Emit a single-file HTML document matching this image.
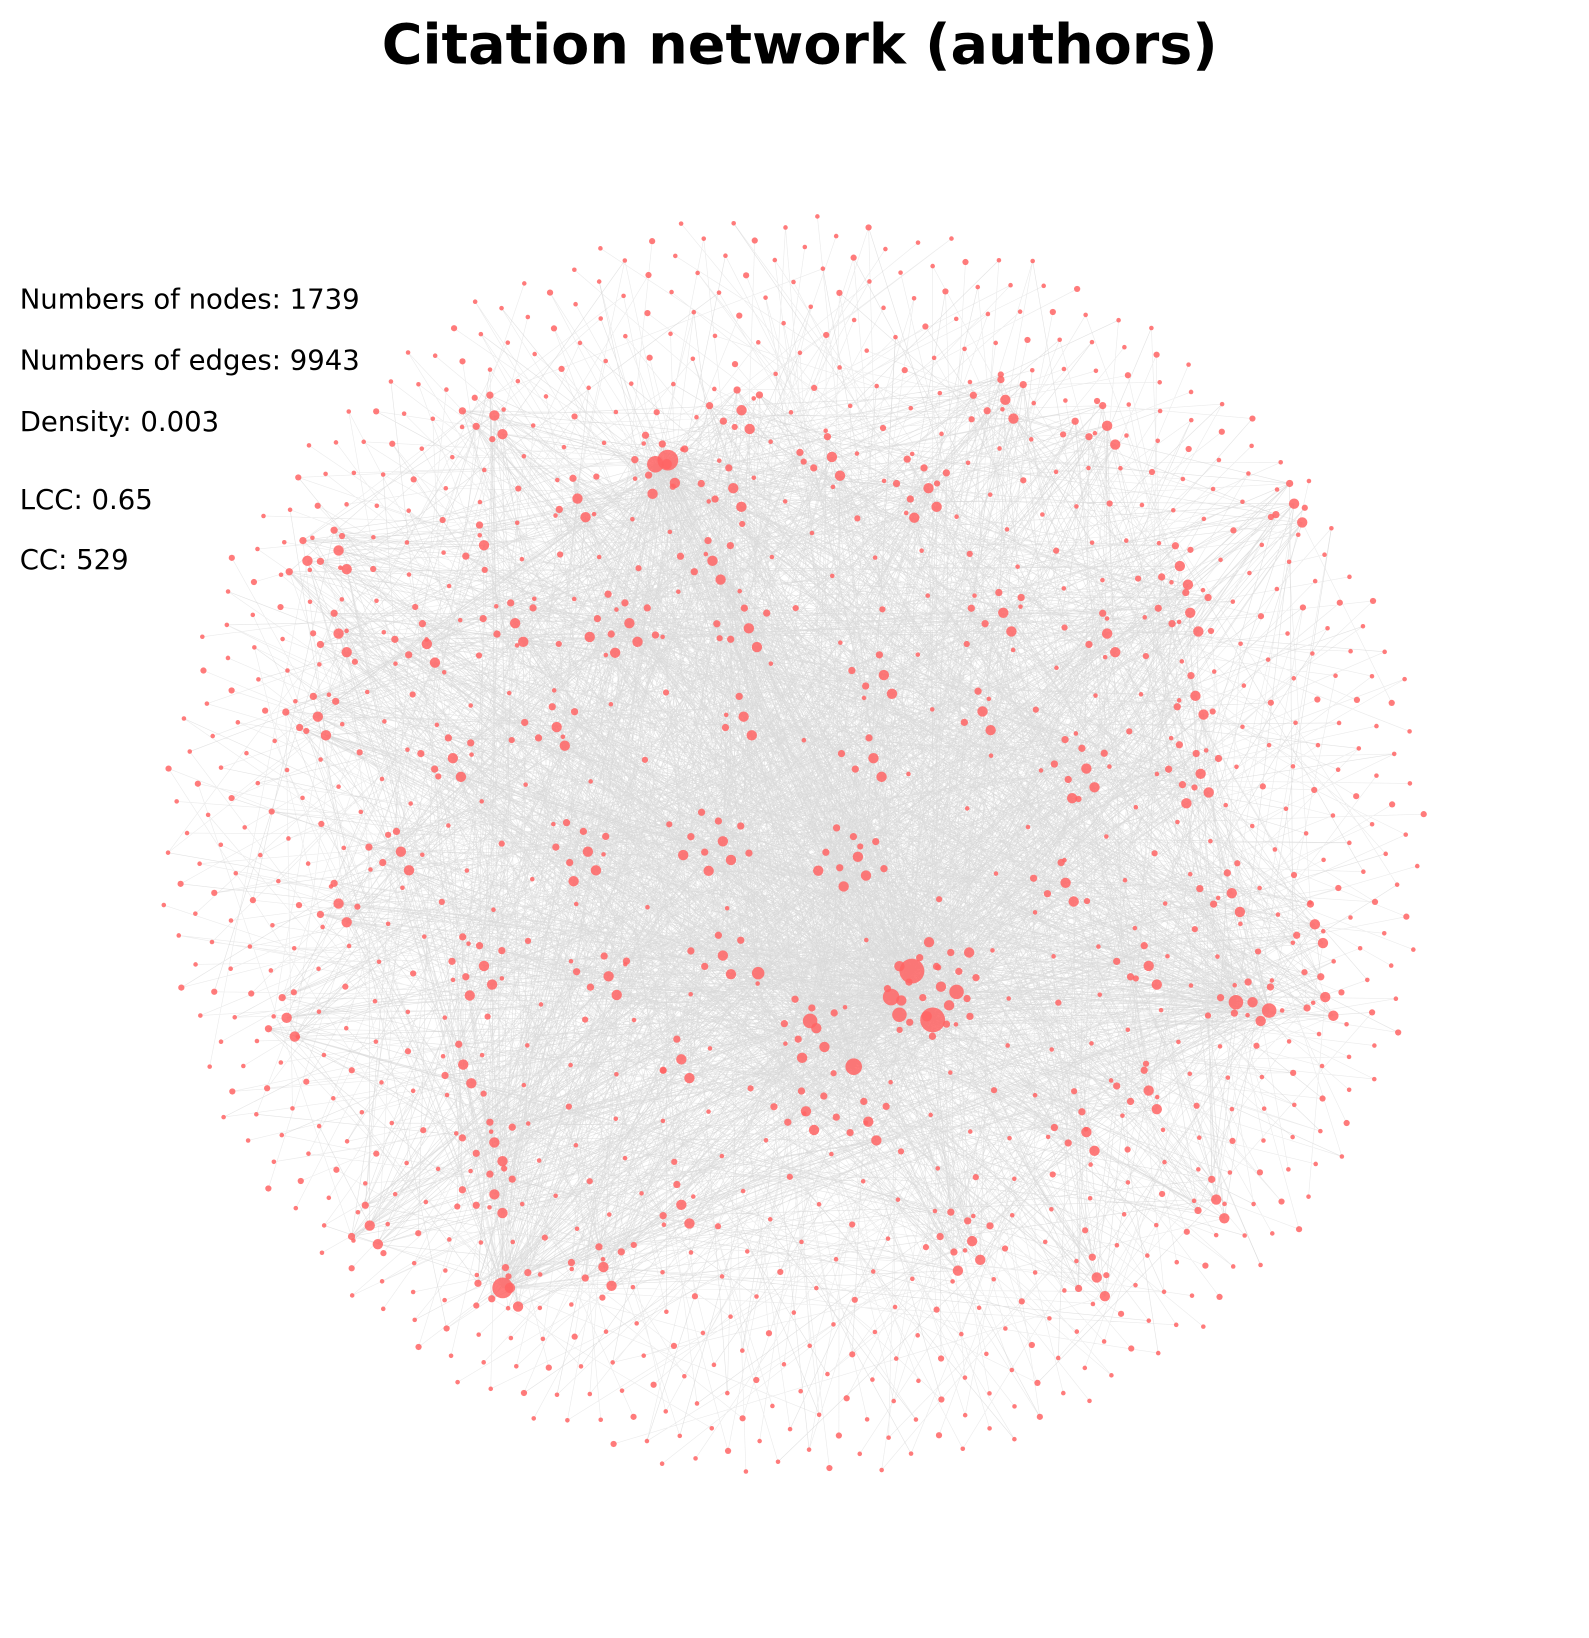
<!DOCTYPE html>
<html><head><meta charset="utf-8"><style>
body{margin:0;background:#fff;}
svg{display:block;font-family:"DejaVu Sans","Liberation Sans",sans-serif;}
</style></head><body>
<svg id="chart" width="1589" height="1638" viewBox="0 0 1589 1638">
<g transform="scale(1.0386)">
<text x="770" y="61" text-anchor="middle" font-size="53.5" font-weight="bold">Citation network (authors)</text>
<g id="edges"></g>
<g id="nodes"></g>
<g font-size="26.5" fill="#000">
<text x="19" y="297">Numbers of nodes: 1739</text>
<text x="19" y="356">Numbers of edges: 9943</text>
<text x="19" y="415">Density: 0.003</text>
<text x="19" y="490">LCC: 0.65</text>
<text x="19" y="548">CC: 529</text>
</g>
</g>
</svg>
<script>
// cluster centers (x,y in layout px) and node counts
const clusterX=[636,708,795,888,962,470,1060,715,600,490,405,300,430,530,680,845,960,1060,1140,1145,1040,1150,940,835,710,690,820,560,380,1020,1180,1260,1200,900,780,690,460,580,1100,1270,1100,1040,830,770,650,470,470,350,485,575,650,930,1165,1050,320,270,440,320,320,290,700,550,460,1240,1130];
const clusterY=[447,395,440,470,385,400,410,605,600,600,620,690,730,700,540,650,590,610,590,670,740,745,685,730,690,810,825,820,820,850,860,890,965,950,990,920,930,940,930,960,1050,1090,1080,1070,1020,1100,1150,1180,1240,1220,1160,1195,1155,1230,870,980,1025,530,610,540,470,480,525,485,545];
const clusterN=[8,6,5,8,6,5,5,6,10,6,5,6,6,6,6,5,6,4,6,4,8,8,4,5,4,10,10,8,5,5,5,4,6,20,8,6,8,6,5,4,5,5,6,6,4,6,6,4,6,6,4,8,4,4,4,4,4,4,4,3,5,4,3,4,4];
// hub nodes (largest degree)
const hubX=[878,898,643,484,822,858,631,866,921,780,730,1190,1222];
const hubY=[935,982,443,1240,1027,960,447,977,955,983,937,965,973];
const hubR=[12,12,10,10,8,8,8,7,7,7,6,7,7];
const peripheralN=950;
const CX=765,CY=815,RAD=610;
const ns="http://www.w3.org/2000/svg";
const nodes=[];
clusterX.forEach((x,i)=>{const n=clusterN[i];for(let k=0;k<n;k++){const a=k*2.4,rr=6+9.6*Math.sqrt(k);nodes.push([x+rr*Math.cos(a),clusterY[i]+rr*Math.sin(a),k%3==0?5:3.5]);}});
const NC=nodes.length;
for(let k=0;k<peripheralN;k++){const f=Math.pow((k+0.5)/peripheralN,0.3);const a=k*2.39996;nodes.push([CX+RAD*f*Math.cos(a),CY+RAD*f*Math.sin(a),k%4==0?3.0:2.2]);}
const NP=nodes.length;
hubX.forEach((x,i)=>nodes.push([x,hubY[i],hubR[i]]));
const N=nodes.length;
const eg=document.getElementById('edges');
let d1="",d2="";
function seg(a,b){return `M${a[0].toFixed(1)} ${a[1].toFixed(1)}L${b[0].toFixed(1)} ${b[1].toFixed(1)}`;}
for(let i=0;i<N;i++){
 const a=nodes[i];
 if(i<NC||i>=NP){
  [(i*37+11)%NC,(i*101+7)%NC,(i*13+5)%NC,N-1-(i%hubX.length),(i*53+3)%N].forEach(t=>{d1+=seg(a,nodes[t]);});
 } else {
  d2+=seg(a,nodes[(i*7+3)%NC]);
  if(i%3==0)d2+=seg(a,nodes[NP+((i*5)%hubX.length)]);
 }
}
[[d1,'0.55'],[d2,'0.4']].forEach(([dd,op],j)=>{
const p=document.createElementNS(ns,'path');
p.setAttribute('d',dd);p.setAttribute('stroke','#cccccc');p.setAttribute('stroke-width','0.6');p.setAttribute('stroke-opacity',op);p.setAttribute('fill','none');


eg.appendChild(p);
});
const ng=document.getElementById('nodes');
nodes.forEach(n=>{
 const c=document.createElementNS(ns,'circle');
 c.setAttribute('cx',n[0].toFixed(1));c.setAttribute('cy',n[1].toFixed(1));c.setAttribute('r',n[2]);
 c.setAttribute('fill','#ff6464');c.setAttribute('fill-opacity','0.85');
 
 
 ng.appendChild(c);
});
</script>
</body></html>
